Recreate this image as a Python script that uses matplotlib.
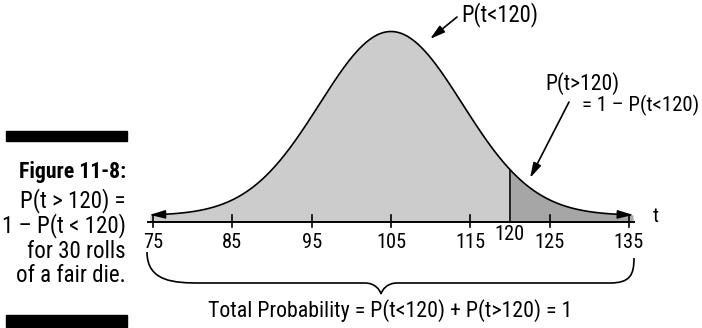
import numpy as np
import matplotlib
matplotlib.use("Agg")
import matplotlib.pyplot as plt
from matplotlib.transforms import Affine2D, blended_transform_factory
from matplotlib.path import Path
from matplotlib.patches import PathPatch, Rectangle

plt.rcParams['font.family'] = ['Roboto Condensed', 'DejaVu Sans']

# ---- data ----
mean_t = 105.0
sd_t = 9.0
t_start, t_end = 74.6, 135.5
cutoff = 120
tick_values = [75, 85, 95, 105, 115, 125, 135]
tick_labels = ["75", "85", "95", "105", "115", "125", "135"]
cut_label = "120"
caption_title = "Figure 11-8:"
caption_lines = ["P(t > 120) =", "1 \u2013 P(t < 120)", "for 30 rolls", "of a fair die."]
label_less = "P(t<120)"
label_more_1 = "P(t>120)"
label_more_2 = "= 1 \u2013 P(t<120)"
total_label = "Total Probability = P(t<120) + P(t>120) = 1"

W, H = 702, 328
FS = 15
fig = plt.figure(figsize=(W / 100, H / 100), dpi=100)
ax = fig.add_axes([0, 0, 1, 1])
ax.axis('off')

# pixel transform (x right, y down from top-left)
px = Affine2D().scale(1 / W, -1 / H).translate(0, 1) + fig.transFigure

# scales
x75_px, x135_px = 153.0, 629.0
ppu = (x135_px - x75_px) / 60.0
ax.set_xlim(75 - x75_px / ppu, 75 + (W - x75_px) / ppu)
pdfmax = 1 / (sd_t * np.sqrt(2 * np.pi))
k = 184.0 / pdfmax          # px per density unit
zero_row = 215.5
ax.set_ylim(-(H - zero_row) / k, zero_row / k)
base = -6.0 / k             # axis line slightly below zero density

t = np.linspace(t_start, t_end, 600)
pdf = np.exp(-(t - mean_t) ** 2 / (2 * sd_t ** 2)) / (sd_t * np.sqrt(2 * np.pi))

left = t <= cutoff
right = t >= cutoff
ax.fill_between(t[left], base, pdf[left], color='#cccccc', lw=0)
ax.fill_between(t[right], base, pdf[right], color='#a6a6a6', lw=0)
ax.plot(t[3:-3], pdf[3:-3], color='black', lw=1.2)
# arrowheads at the curve ends
for i0, i1 in [(8, 0), (-9, -1)]:
    ax.annotate('', xy=(t[i1], pdf[i1]), xytext=(t[i0], pdf[i0]),
                arrowprops=dict(arrowstyle='-|>,head_length=0.9,head_width=0.25',
                                color='black', lw=1.2, shrinkA=0, shrinkB=0))

# cutoff line
pc = np.exp(-(cutoff - mean_t) ** 2 / (2 * sd_t ** 2)) / (sd_t * np.sqrt(2 * np.pi))
ax.plot([cutoff, cutoff], [base, pc], color='black', lw=1.2)

# axis line and ticks
ax.plot([74.4, 135.6], [base, base], color='black', lw=1.4)
for v in tick_values:
    ax.plot([v, v], [base + 7 / k, base - 5 / k], color='black', lw=1.2)

fits = []  # (reference text, texts to resize, target width in px of the reference text)

bt = blended_transform_factory(ax.transData, px)
tick_texts = []
for v, lab in zip(tick_values, tick_labels):
    tick_texts.append(ax.text(v, 242, lab, transform=bt, ha='center', va='center', fontsize=FS))
tick_texts.append(ax.text(cutoff, 235, cut_label, transform=bt, ha='center', va='center', fontsize=FS))
tick_texts.append(ax.text(656, 216, "t", transform=px, ha='center', va='center', fontsize=FS))
fits.append((tick_texts[6], tick_texts, 30))   # "135" is 30 px wide

# annotations
tl = ax.text(461, 15, label_less, transform=px, ha='left', va='center', fontsize=FS)
fits.append((tl, [tl], 77))
ax.annotate('', xy=(430, 39), xytext=(457, 17), xycoords=px, textcoords=px,
            arrowprops=dict(arrowstyle='-|>,head_length=0.9,head_width=0.25',
                            color='black', lw=1.2, shrinkA=0, shrinkB=0))
tm1 = ax.text(545, 84, label_more_1, transform=px, ha='left', va='center', fontsize=FS)
fits.append((tm1, [tm1], 74))
tm2 = ax.text(582, 105, label_more_2, transform=px, ha='left', va='center', fontsize=FS)
fits.append((tm2, [tm2], 117))
ax.annotate('', xy=(530, 178), xytext=(569, 102), xycoords=px, textcoords=px,
            arrowprops=dict(arrowstyle='-|>,head_length=0.9,head_width=0.25',
                            color='black', lw=1.2, shrinkA=0, shrinkB=0))

# brace
verts = [(147, 252), (147, 282), (175, 283), (200, 283),
         (365, 283),
         (375, 283), (380, 290), (381, 294),
         (382, 290), (387, 283), (397, 283),
         (610, 283),
         (630, 283), (634, 275), (634, 258)]
codes = [Path.MOVETO, Path.CURVE4, Path.CURVE4, Path.CURVE4,
         Path.LINETO,
         Path.CURVE4, Path.CURVE4, Path.CURVE4,
         Path.CURVE4, Path.CURVE4, Path.CURVE4,
         Path.LINETO,
         Path.CURVE4, Path.CURVE4, Path.CURVE4]
ax.add_patch(PathPatch(Path(verts, codes), transform=px, fill=False,
                       edgecolor='black', lw=1.2))
tt = ax.text(390, 311, total_label, transform=px, ha='center', va='center', fontsize=FS)
fits.append((tt, [tt], 365))

# left caption block
ax.add_patch(Rectangle((6, 131), 121, 10, transform=px, color='black'))
ax.add_patch(Rectangle((6, 315), 121, 12, transform=px, color='black'))
tf = ax.text(126, 172, caption_title, transform=px, ha='right', va='center',
             fontsize=FS, fontweight='bold')
fits.append((tf, [tf], 107))
cap_texts = []
for i, line in enumerate(caption_lines):
    cap_texts.append(ax.text(126, 201 + 25 * i, line, transform=px, ha='right',
                             va='center', fontsize=FS))
fits.append((cap_texts[1], cap_texts, 124))

# fit font sizes to the widths measured in the reference
fig.canvas.draw()
r = fig.canvas.get_renderer()
for ref, objs, target in fits:
    w = ref.get_window_extent(r).width
    size = FS * target / w
    for o in objs:
        o.set_fontsize(size)

fig.savefig("out.png", dpi=100)
